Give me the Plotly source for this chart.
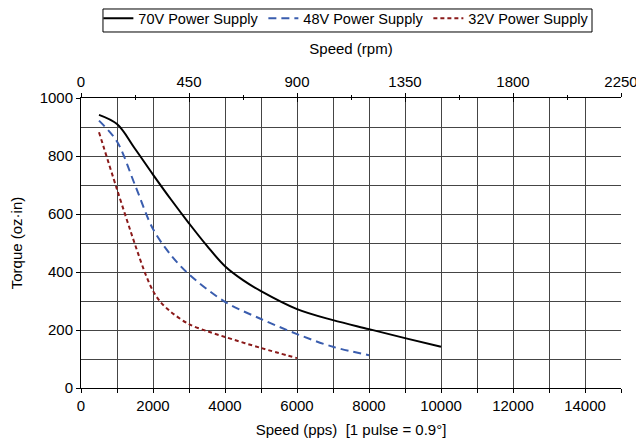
import plotly.graph_objects as go

# Data
speed_70 = [500, 1000, 1500, 2000, 2500, 3000, 3500, 4000, 4500, 5000, 6000, 7000, 8000, 9000, 10000]
torque_70 = [942, 910, 825, 736, 650, 568, 490, 420, 372, 334, 272, 234, 203, 172, 142]

speed_48 = [500, 1000, 1500, 2000, 2500, 3000, 4000, 5000, 6000, 7000, 8000]
torque_48 = [922, 850, 700, 548, 458, 392, 297, 238, 186, 142, 113]

speed_32 = [500, 1000, 1500, 1800, 2000, 2200, 2500, 3000, 3500, 4000, 5000, 6000]
torque_32 = [882, 685, 495, 390, 335, 298, 262, 220, 196, 176, 138, 103]

pps_ticks = [0, 2000, 4000, 6000, 8000, 10000, 12000, 14000]
rpm_ticks = [0, 450, 900, 1350, 1800, 2250]
torque_ticks = [0, 200, 400, 600, 800, 1000]

FONT = "Arial, Liberation Sans, sans-serif"
GRID = "#454545"

fig = go.Figure()
fig.add_trace(go.Scatter(x=speed_70, y=torque_70, mode="lines", name="70V Power Supply",
                         line=dict(color="#000000", width=2, shape="spline", smoothing=1.0)))
fig.add_trace(go.Scatter(x=speed_48, y=torque_48, mode="lines", name="48V Power Supply",
                         line=dict(color="#3A5DAE", width=2, dash="8px,5px", shape="spline", smoothing=0.9)))
fig.add_trace(go.Scatter(x=speed_32, y=torque_32, mode="lines", name="32V Power Supply",
                         line=dict(color="#8B1A1A", width=2, dash="4px,3px", shape="spline", smoothing=0.9)))
# dummy traces so the top axes are drawn
fig.add_trace(go.Scatter(x=[None], y=[None], xaxis="x2", showlegend=False, hoverinfo="skip"))
fig.add_trace(go.Scatter(x=[None], y=[None], xaxis="x3", showlegend=False, hoverinfo="skip"))

# legend frame (thin box like the reference)
fig.add_shape(type="rect", xref="paper", yref="paper",
              x0=0.0407, x1=0.9463, y0=1.2276, y1=1.3069,
              line=dict(color="black", width=1), fillcolor="rgba(0,0,0,0)", layer="above")

# page body has an 8px margin; figure is sized so the plot lands where the reference has it
fig.update_layout(
    width=636, height=437,
    margin=dict(l=73, r=23, t=90, b=57, autoexpand=False),
    paper_bgcolor="white", plot_bgcolor="white",
    font=dict(family=FONT, size=15, color="black"),
    showlegend=True,
    legend=dict(orientation="h", x=0.4905, xanchor="center", y=1.33, yanchor="top",
                borderwidth=0, bgcolor="rgba(0,0,0,0)",
                font=dict(size=14.5), traceorder="normal",
                entrywidth=120, entrywidthmode="pixels", itemwidth=30,
                tracegroupgap=0),
    xaxis=dict(range=[0, 15000], tickvals=pps_ticks, ticktext=[str(v) for v in pps_ticks],
               showgrid=True, gridcolor=GRID, gridwidth=1,
               showline=True, linecolor="black", linewidth=1,
               ticks="outside", ticklen=4, tickcolor="black",
               minor=dict(dtick=1000, tick0=0, showgrid=True, gridcolor=GRID, gridwidth=1,
                          ticks="outside", ticklen=4, tickcolor="black"),
               zeroline=False, automargin=False,
               title=dict(text="Speed (pps)  [1 pulse = 0.9°]", font=dict(size=15), standoff=11),
               tickfont=dict(size=15)),
    xaxis2=dict(range=[0, 2250], overlaying="x", side="top", anchor="y",
                tickvals=rpm_ticks, ticktext=[str(v) for v in rpm_ticks],
                showgrid=False, zeroline=False, automargin=False,
                showline=True, linecolor="black", linewidth=1,
                ticks="outside", ticklen=4, tickcolor="black",
                minor=dict(dtick=225, tick0=0, ticks="outside", ticklen=2, tickcolor="black", showgrid=False),
                title=dict(text="Speed (rpm)", font=dict(size=15), standoff=14),
                tickfont=dict(size=15)),
    xaxis3=dict(range=[0, 2250], overlaying="x", side="top", anchor="y",
                tickvals=rpm_ticks, showticklabels=False, automargin=False,
                showgrid=False, zeroline=False, showline=False,
                ticks="inside", ticklen=4, tickcolor="black",
                minor=dict(dtick=225, tick0=0, ticks="inside", ticklen=2, tickcolor="black", showgrid=False)),
    yaxis=dict(range=[0, 1000], tickvals=torque_ticks, ticktext=[str(v) for v in torque_ticks],
               showgrid=True, gridcolor=GRID, gridwidth=1,
               showline=True, linecolor="black", linewidth=1,
               ticks="outside", ticklen=4, tickcolor="black",
               minor=dict(dtick=100, tick0=0, showgrid=True, gridcolor=GRID, gridwidth=1),
               zeroline=False, automargin=False,
               title=dict(text="Torque (oz·in)", font=dict(size=15), standoff=14),
               tickfont=dict(size=15)),
)

fig.write_html("out.html")
